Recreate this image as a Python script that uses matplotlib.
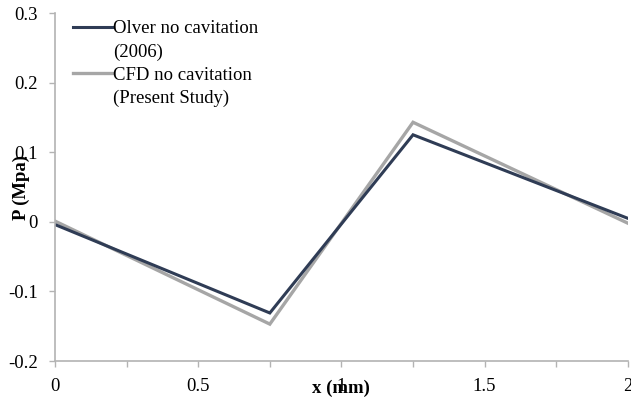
import matplotlib

matplotlib.use("Agg")

import matplotlib.pyplot as plt
from matplotlib.lines import Line2D
from matplotlib.ticker import MultipleLocator

# x positions (mm) and pressure (MPa)
x_mm = [0.0, 0.75, 1.25, 2.0]
olver_p = [-0.004, -0.131, 0.125, 0.005]
cfd_p = [0.001, -0.147, 0.143, -0.002]

x_ticks = [0, 0.5, 1, 1.5, 2]
x_labels = ["0", "0.5", "1", "1.5", "2"]
y_ticks = [-0.2, -0.1, 0, 0.1, 0.2, 0.3]
y_labels = ["-0.2", "-0.1", "0", "0.1", "0.2", "0.3"]

DARK = "#2f3c55"
GREY = "#a6a6a6"
AXIS = "#b3b3b3"

plt.rcParams["font.family"] = ["Liberation Serif", "DejaVu Serif"]
FS = 13.5

fig = plt.figure(figsize=(6.31, 4.0), dpi=100, facecolor="white")
ax = fig.add_axes([0.0872, 0.0975, 0.9078, 0.87])

ax.plot(x_mm, cfd_p, color=GREY, lw=2.4, solid_joinstyle="miter")
ax.plot(x_mm, olver_p, color=DARK, lw=2.2, solid_joinstyle="miter")

ax.set_xlim(0, 2)
ax.set_ylim(-0.2, 0.3)
ax.set_xticks(x_ticks)
ax.set_xticklabels(x_labels)
ax.xaxis.set_minor_locator(MultipleLocator(0.25))
ax.set_yticks(y_ticks)
ax.set_yticklabels(y_labels)

for s in ["top", "right"]:
    ax.spines[s].set_visible(False)
for s in ["left", "bottom"]:
    ax.spines[s].set_color(AXIS)
    ax.spines[s].set_linewidth(1.2)

ax.tick_params(axis="both", which="both", direction="out", length=4, width=1,
               color=AXIS, labelsize=FS, labelcolor="black")
ax.tick_params(axis="x", which="both", pad=8)
ax.tick_params(axis="y", pad=8.5)

ax.set_xlabel("x (mm)", fontsize=FS, fontweight="bold")
ax.xaxis.set_label_coords(0.5, -0.055)
ax.set_ylabel("P (Mpa)", fontsize=FS, fontweight="bold")
ax.yaxis.set_label_coords(-0.044, 0.5)

blank = Line2D([], [], color="none")
handles = [
    Line2D([], [], color=DARK, lw=2.2), blank,
    Line2D([], [], color=GREY, lw=2.4), blank,
]
labels = ["Olver no cavitation", "(2006)", "CFD no cavitation", "(Present Study)"]
ax.legend(handles, labels, loc="upper left", bbox_to_anchor=(0.012, 1.012),
          frameon=False, fontsize=FS, handlelength=2.1, handletextpad=0.05,
          labelspacing=0.32, borderaxespad=0.2)

fig.savefig("out.png", dpi=100, facecolor="white")
